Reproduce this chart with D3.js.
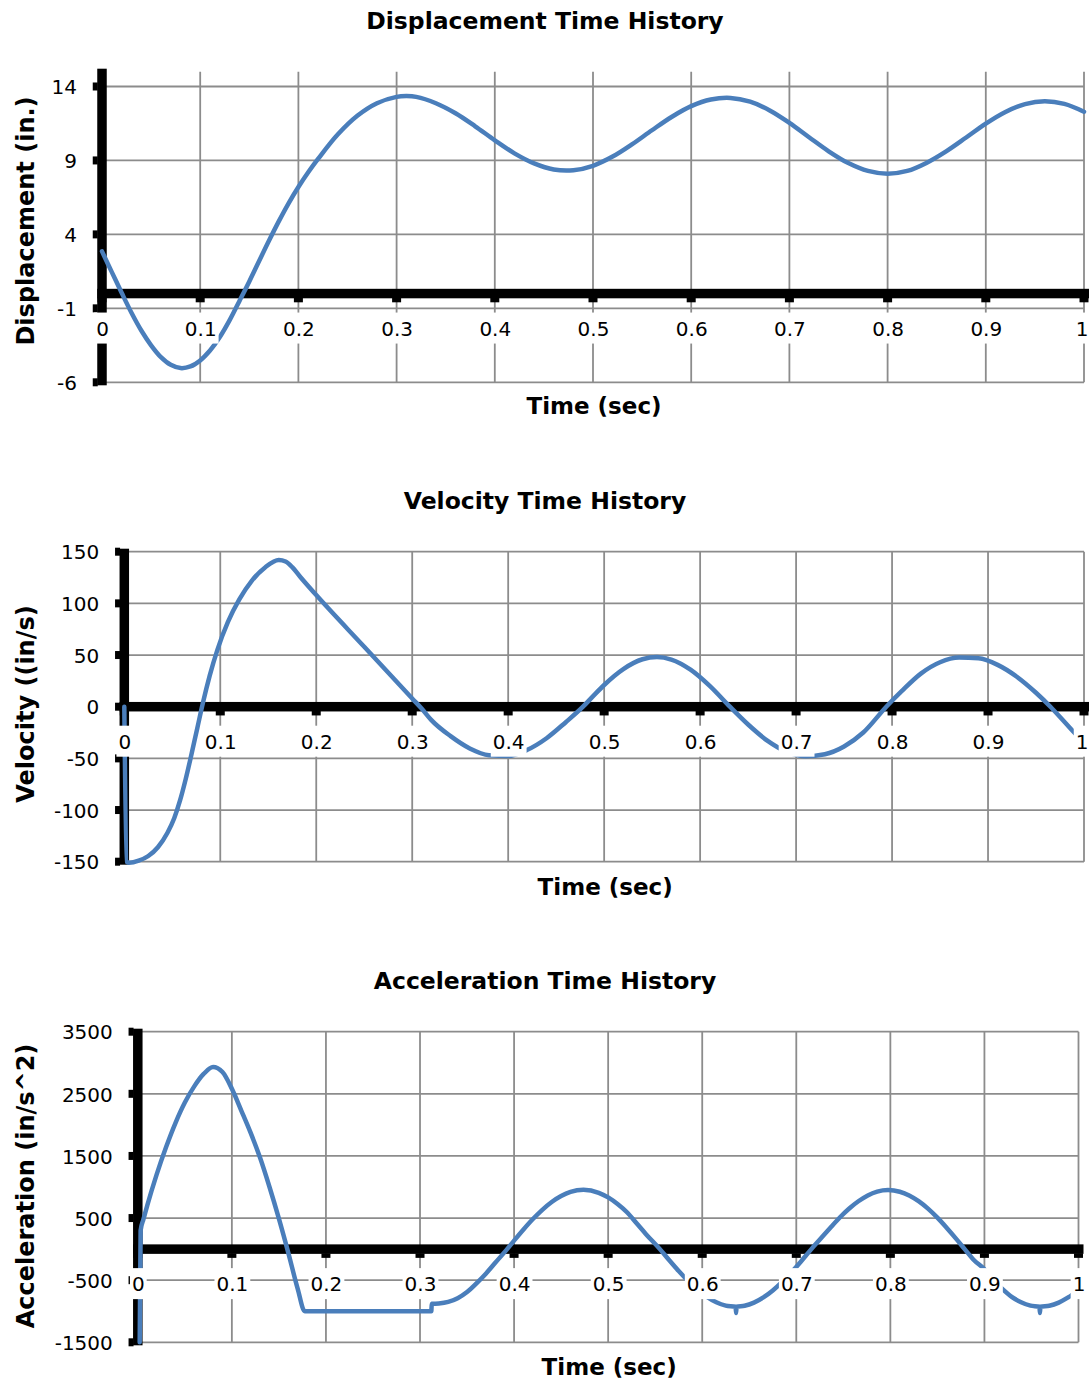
<!DOCTYPE html>
<html>
<head>
<meta charset="utf-8">
<script src="https://cdn.jsdelivr.net/npm/d3@7"></script>
<style>
  body { margin: 0; background: #fff; }
  svg text { font-family: "DejaVu Sans", sans-serif; fill: #000; }
</style>
</head>
<body>
<svg id="chart" width="1089" height="1387"></svg>
<script>
// ---- Time axis ----
const timeTicks = [0, 0.1, 0.2, 0.3, 0.4, 0.5, 0.6, 0.7, 0.8, 0.9, 1];
const timeTickLabels = ["0", "0.1", "0.2", "0.3", "0.4", "0.5", "0.6", "0.7", "0.8", "0.9", "1"];

// ---- Displacement (in.) ----
const dispTime = [0, 0.01, 0.02, 0.03, 0.04, 0.05, 0.06, 0.07, 0.08, 0.09, 0.10,
  0.11, 0.12, 0.13, 0.14, 0.15, 0.16, 0.17, 0.18, 0.19, 0.20, 0.21, 0.22,
  0.24, 0.26, 0.28, 0.30, 0.31, 0.32, 0.34, 0.36, 0.38, 0.40, 0.42, 0.44, 0.46, 0.48,
  0.50, 0.52, 0.54, 0.56, 0.58, 0.60, 0.62, 0.64, 0.66, 0.68, 0.70, 0.72, 0.74,
  0.76, 0.78, 0.80, 0.82, 0.84, 0.86, 0.88, 0.90, 0.92, 0.94, 0.96, 0.98, 1.00];
const dispValues = [2.85, 1.45, 0.05, -1.3, -2.5, -3.5, -4.3, -4.82, -5.04, -4.93, -4.52,
  -3.85, -2.94, -1.8, -0.5, 0.82, 2.2, 3.57, 4.88, 6.1, 7.2, 8.2, 9.1,
  10.75, 12.02, 12.87, 13.3, 13.35, 13.3, 12.87, 12.19, 11.31, 10.36, 9.48, 8.80, 8.39, 8.34,
  8.64, 9.26, 10.10, 11.04, 11.94, 12.67, 13.12, 13.23, 12.97, 12.38, 11.54, 10.57, 9.62,
  8.82, 8.29, 8.10, 8.29, 8.85, 9.63, 10.55, 11.49, 12.28, 12.81, 13.00, 12.82, 12.29];
const dispTicks = [-6, -1, 4, 9, 14];
const dispTickLabels = ["-6", "-1", "4", "9", "14"];

// ---- Velocity (in/s) ----
const velTime = [0, 0.0025, 0.005, 0.015, 0.025, 0.035, 0.045, 0.052, 0.058, 0.064, 0.070,
  0.076, 0.082, 0.089, 0.097, 0.108, 0.12, 0.133, 0.147, 0.161, 0.168, 0.175, 0.183,
  0.20, 0.25, 0.30, 0.31, 0.32, 0.34, 0.36, 0.38, 0.40, 0.42, 0.44, 0.46, 0.478,
  0.49, 0.50, 0.52, 0.54, 0.555, 0.57, 0.59, 0.61, 0.631,
  0.65, 0.67, 0.69, 0.71, 0.73, 0.75, 0.77, 0.794,
  0.81, 0.83, 0.85, 0.87, 0.89, 0.91, 0.93, 0.95, 0.965, 0.98, 0.992, 1.0];
const velValues = [0, -150, -151, -149, -144.5, -136, -122, -108, -91, -70, -46,
  -21, 4, 30, 55, 82, 104, 122, 135, 142, 140.5, 135, 126,
  108, 58, 8, -2, -13, -28.5, -40.4, -46.9, -47.6, -41.7, -30.5, -15, 0,
  11.7, 21, 36.4, 45.9, 48, 45.6, 35.8, 20.1, 0,
  -17.2, -32.8, -43.5, -48, -46, -38.5, -25, 0,
  15, 32, 43, 47.5, 46.8, 40.5, 29, 13.5, 0, -15, -27, -34];
const velTicks = [-150, -100, -50, 0, 50, 100, 150];
const velTickLabels = ["-150", "-100", "-50", "0", "50", "100", "150"];

// ---- Acceleration (in/s^2) ----
const accTime = [0.002, 0.003, 0.006, 0.01, 0.02, 0.03, 0.04, 0.05, 0.06, 0.07, 0.08,
  0.09, 0.10, 0.11, 0.12, 0.13, 0.14, 0.15, 0.16, 0.17, 0.1775,
  0.312, 0.3125, 0.32, 0.33, 0.34, 0.35, 0.36, 0.37, 0.38, 0.3926,
  0.40, 0.41, 0.42, 0.43, 0.44, 0.45, 0.46, 0.4738, 0.49, 0.50, 0.51, 0.52, 0.53, 0.54, 0.555,
  0.565, 0.575, 0.585, 0.595, 0.605, 0.615, 0.625, 0.6355, 0.636, 0.6365,
  0.645, 0.655, 0.665, 0.675, 0.685, 0.695, 0.705, 0.716,
  0.726, 0.736, 0.746, 0.756, 0.766, 0.776, 0.786, 0.7975, 0.81, 0.82, 0.83, 0.84, 0.85, 0.86, 0.87, 0.879,
  0.889, 0.899, 0.909, 0.919, 0.929, 0.939, 0.949, 0.9585, 0.959, 0.9595,
  0.969, 0.979, 0.989, 1.0];
const accValues = [-1500, 300, 480, 700, 1200, 1640, 2030, 2360, 2620, 2820, 2930,
  2850, 2580, 2230, 1870, 1470, 1000, 490, -60, -640, -1000,
  -1000, -880, -875, -850, -790, -690, -550, -395, -220, 0,
  137, 316, 484, 633, 759, 856, 922, 955, 907, 832, 726, 593, 420, 245, 0,
  -180, -353, -512, -653, -768, -855, -909, -928, -1030, -928,
  -912, -861, -778, -666, -527, -370, -198, 0,
  170, 340, 505, 650, 770, 865, 925, 950, 923, 864, 772, 652, 506, 340, 165, 0,
  -180, -310, -490, -640, -768, -855, -909, -928, -1030, -928,
  -912, -861, -778, -666];
const accTicks = [-1500, -500, 500, 1500, 2500, 3500];
const accTickLabels = ["-1500", "-500", "500", "1500", "2500", "3500"];

// ---- Panel layout ----
const panels = [
  { time: dispTime, values: dispValues, domain: [-6, 15], ticks: dispTicks, tickLabels: dispTickLabels,
    curve: d3.curveCatmullRom.alpha(0.5),
    title: "Displacement Time History", yTitle: "Displacement (in.)",
    left: 102, right: 1084, top: 71.7, bottom: 382.3, titleY: 29, xTitleY: 414, yTitleCY: 221 },
  { time: velTime, values: velValues, domain: [-150, 150], ticks: velTicks, tickLabels: velTickLabels,
    curve: d3.curveMonotoneX,
    title: "Velocity Time History", yTitle: "Velocity ((in/s)",
    left: 124.3, right: 1084, top: 551.7, bottom: 861.7, titleY: 509, xTitleY: 895, yTitleCY: 704 },
  { time: accTime, values: accValues, domain: [-1500, 3500], ticks: accTicks, tickLabels: accTickLabels,
    curve: d3.curveMonotoneX,
    title: "Acceleration Time History", yTitle: "Acceleration (in/s^2)",
    left: 137.8, right: 1078.5, top: 1031.7, bottom: 1342.3, titleY: 989, xTitleY: 1375, yTitleCY: 1186 }
];

const LINE_COLOR = "#4a7ebb";
const GRID_COLOR = "#8c8c8c";
const AXIS_W = 9.5;
const PAGE_W = 1089;

const svg = d3.select("#chart");

function drawPanel(p) {
  const x = d3.scaleLinear().domain([0, 1]).range([p.left, p.right]);
  const y = d3.scaleLinear().domain(p.domain).range([p.bottom, p.top]);
  const g = svg.append("g");
  const ax = x(0), ay = y(0);

  // gridlines
  g.append("g").selectAll("line").data(timeTicks).join("line")
    .attr("x1", d => x(d)).attr("x2", d => x(d))
    .attr("y1", p.top).attr("y2", p.bottom)
    .attr("stroke", GRID_COLOR).attr("stroke-width", 1.8);
  g.append("g").selectAll("line").data(p.ticks).join("line")
    .attr("x1", x(0)).attr("x2", x(1))
    .attr("y1", d => y(d)).attr("y2", d => y(d))
    .attr("stroke", GRID_COLOR).attr("stroke-width", 1.8);

  // heavy axis lines with square tick marks
  const axes = g.append("g").attr("fill", "#000");
  axes.append("rect")
    .attr("x", ax - AXIS_W / 2).attr("width", AXIS_W)
    .attr("y", p.top - 3).attr("height", p.bottom - p.top + 6);
  axes.append("rect")
    .attr("x", ax - AXIS_W / 2).attr("width", x(1) + 5 - (ax - AXIS_W / 2))
    .attr("y", ay - AXIS_W / 2).attr("height", AXIS_W);
  axes.selectAll(".ytick").data(p.ticks).join("rect").attr("class", "ytick")
    .attr("x", ax - AXIS_W / 2 - 4.5).attr("width", 5)
    .attr("y", d => y(d) - 4).attr("height", 8);
  axes.selectAll(".xtick").data(timeTicks).join("rect").attr("class", "xtick")
    .attr("x", d => x(d) - 4.5).attr("width", 9)
    .attr("y", ay + AXIS_W / 2 - 0.5).attr("height", 4.5);

  // series
  const line = d3.line()
    .x(d => x(d[0])).y(d => y(d[1]))
    .curve(p.curve);
  g.append("path")
    .datum(d3.zip(p.time, p.values))
    .attr("d", line)
    .attr("fill", "none")
    .attr("stroke", LINE_COLOR)
    .attr("stroke-width", 4.5)
    .attr("stroke-linejoin", "round")
    .attr("stroke-linecap", "round");

  // time labels sit on white boxes just under the zero line
  const xAxis = g.append("g")
    .attr("transform", `translate(0,${ay})`)
    .call(d3.axisBottom(x).tickValues(timeTicks).tickSize(0).tickPadding(27.8)
      .tickFormat((d, i) => timeTickLabels[i]));
  xAxis.select(".domain").remove();
  xAxis.attr("font-family", null).attr("font-size", null);
  xAxis.selectAll("text").attr("font-size", 20).attr("fill", "#000");
  xAxis.selectAll(".tick").each(function (d) {
    const tick = d3.select(this);
    const text = tick.select("text");
    let bb = text.node().getBBox();
    // keep the last label inside the page
    const overflow = x(d) + bb.x + bb.width - (PAGE_W - 1);
    if (overflow > 0) {
      text.attr("x", -overflow);
      bb = text.node().getBBox();
    }
    tick.insert("rect", "text")
      .attr("x", bb.x - 2).attr("width", bb.width + 4)
      .attr("y", 19).attr("height", 31)
      .attr("fill", "#fff");
  });

  // value labels
  const yAxis = g.append("g")
    .attr("transform", `translate(${ax},0)`)
    .call(d3.axisLeft(y).tickValues(p.ticks).tickSize(0).tickPadding(25)
      .tickFormat((d, i) => p.tickLabels[i]));
  yAxis.select(".domain").remove();
  yAxis.attr("font-family", null).attr("font-size", null);
  yAxis.selectAll("text").attr("font-size", 20).attr("fill", "#000").attr("dy", "0.36em");

  // titles
  g.append("text").attr("x", 545).attr("y", p.titleY)
    .attr("text-anchor", "middle").attr("font-size", 23.5).attr("font-weight", "bold")
    .text(p.title);
  g.append("text").attr("x", (p.left + p.right) / 2 + 1).attr("y", p.xTitleY)
    .attr("text-anchor", "middle").attr("font-size", 23).attr("font-weight", "bold")
    .text("Time (sec)");
  g.append("text")
    .attr("transform", `translate(34,${p.yTitleCY}) rotate(-90)`)
    .attr("text-anchor", "middle").attr("font-size", 24).attr("font-weight", "bold")
    .text(p.yTitle);
}

panels.forEach(drawPanel);
</script>
</body>
</html>
